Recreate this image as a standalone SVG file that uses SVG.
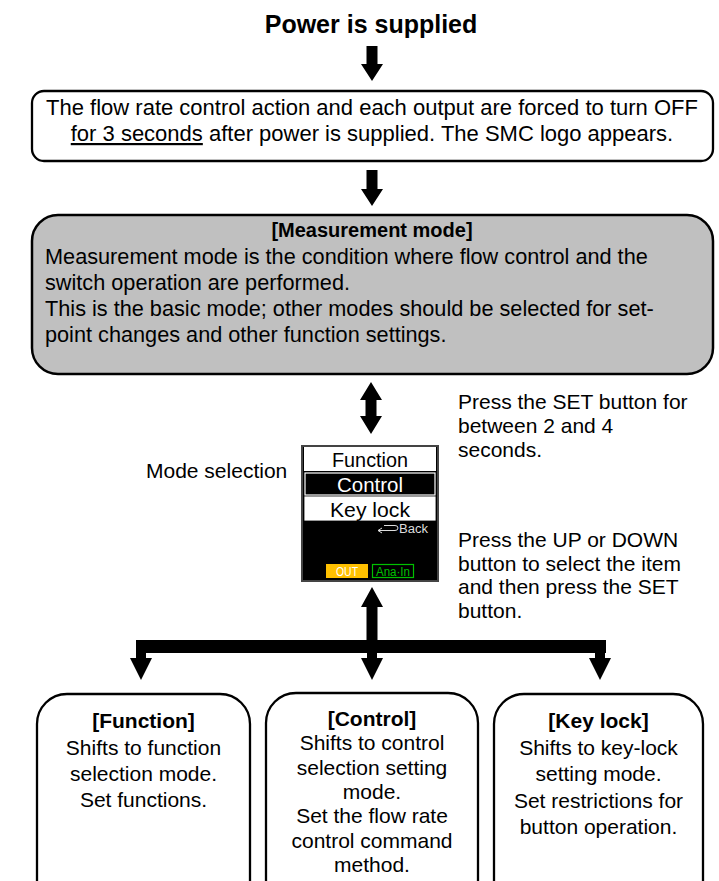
<svg xmlns="http://www.w3.org/2000/svg" width="719" height="881" viewBox="0 0 719 881">
<style>
.t{font-family:"Liberation Sans",Arial,sans-serif;fill:#000}
.b{font-weight:bold}
.box{fill:#fff;stroke:#000;stroke-width:2.3}
.gray{fill:#c0c0c0;stroke:#000;stroke-width:2.5}
.ar{fill:#000}
.lcd{font-family:"Liberation Sans",Arial,sans-serif}
</style>
<rect width="719" height="881" fill="#fff"/>
<text class="t b" x="371" y="33" font-size="25" text-anchor="middle">Power is supplied</text>
<g id="connectors">
<polygon class="ar" points="366.5,46 377.5,46 377.5,64 383,64 372,81 361,64 366.5,64"/>
<polygon class="ar" points="366.5,170 377.5,170 377.5,189 383,189 372,206 361,189 366.5,189"/>
<polygon class="ar" points="371,382 382,400 376.5,400 376.5,416 382,416 371,434 360,416 365.5,416 365.5,400 360,400"/>
<polygon class="ar" points="372,587 383,607 377.5,607 377.5,640 366.5,640 366.5,607 361,607"/>
<rect class="ar" x="136" y="640" width="470" height="13"/>
<polygon class="ar" points="136,653 146,653 146,658 152,658 141,680 130,658 136,658"/>
<polygon class="ar" points="367,653 377,653 377,658 383,658 372,680 361,658 367,658"/>
<polygon class="ar" points="595,653 605,653 605,658 611,658 600,680 589,658 595,658"/>
</g>
<g id="node-power-on">
<rect class="box" x="32" y="91" width="681" height="70" rx="12"/>
<text class="t" x="372" y="115" font-size="22" text-anchor="middle">The flow rate control action and each output are forced to turn OFF</text>
<text class="t" x="372" y="141" font-size="22" text-anchor="middle"><tspan text-decoration="underline">for 3 seconds</tspan> after power is supplied. The SMC logo appears.</text>
</g>
<g id="node-measurement">
<rect class="gray" x="32" y="215" width="681" height="159" rx="26"/>
<text class="t b" x="372" y="237" font-size="20" text-anchor="middle">[Measurement mode]</text>
<text class="t" x="45" y="264" font-size="21.7">Measurement mode is the condition where flow control and the</text>
<text class="t" x="45" y="290" font-size="21.7">switch operation are performed.</text>
<text class="t" x="45" y="316" font-size="21.7">This is the basic mode; other modes should be selected for set-</text>
<text class="t" x="45" y="342" font-size="21.7">point changes and other function settings.</text>
</g>
<g id="label-set">
<text class="t" x="458" y="409" font-size="21">Press the SET button for</text>
<text class="t" x="458" y="433" font-size="21">between 2 and 4</text>
<text class="t" x="458" y="457" font-size="21">seconds.</text>
</g>
<g id="label-updown">
<text class="t" x="458" y="547" font-size="21">Press the UP or DOWN</text>
<text class="t" x="458" y="571" font-size="21">button to select the item</text>
<text class="t" x="458" y="594" font-size="21">and then press the SET</text>
<text class="t" x="458" y="618" font-size="21">button.</text>
</g>
<g id="label-mode">
<text class="t" x="146" y="478" font-size="21">Mode selection</text>
</g>
<g id="node-screen">
<rect x="302" y="446" width="136" height="135" fill="#000" stroke="#444" stroke-width="2"/>
<rect x="304" y="447" width="132" height="24" fill="#fff"/>
<text class="lcd" x="370" y="467" font-size="20" text-anchor="middle" textLength="76" lengthAdjust="spacingAndGlyphs" fill="#000">Function</text>
<rect x="305" y="473" width="130" height="22" fill="#000" stroke="#fff" stroke-width="1.2"/>
<text class="lcd" x="370" y="492" font-size="20" text-anchor="middle" textLength="66" lengthAdjust="spacingAndGlyphs" fill="#fff">Control</text>
<rect x="305" y="497" width="130" height="23" fill="#fff" stroke="#fff" stroke-width="1.2"/>
<text class="lcd" x="370" y="517" font-size="20" text-anchor="middle" textLength="80" lengthAdjust="spacingAndGlyphs" fill="#000">Key lock</text>
<path d="M384,525.5 L395,525.5 Q398,525.5 398,528 Q398,530.5 395,530.5 L378,530.5 M382,528 L378,530.5 L382,533" fill="none" stroke="#ddd" stroke-width="1"/>
<text class="lcd" x="399" y="533" font-size="12" textLength="29" lengthAdjust="spacingAndGlyphs" fill="#ddd">Back</text>
<rect x="326" y="564" width="42" height="14" fill="#ffc000"/>
<text class="lcd" x="347" y="575.5" font-size="12" text-anchor="middle" textLength="22" lengthAdjust="spacingAndGlyphs" fill="#fff">OUT</text>
<rect x="372.5" y="564.5" width="41" height="13" fill="#000" stroke="#00c000" stroke-width="1.2"/>
<text class="lcd" x="393" y="575.5" font-size="12" text-anchor="middle" textLength="34" lengthAdjust="spacingAndGlyphs" fill="#00c000">Ana·In</text>
</g>
<g id="node-function">
<rect class="box" x="37" y="694" width="213" height="220" rx="30" stroke-width="2"/>
<text class="t b" x="143.5" y="728" font-size="21" text-anchor="middle">[Function]</text>
<text class="t" x="143.5" y="755" font-size="21" text-anchor="middle">Shifts to function</text>
<text class="t" x="143.5" y="781" font-size="21" text-anchor="middle">selection mode.</text>
<text class="t" x="143.5" y="807" font-size="21" text-anchor="middle">Set functions.</text>
</g>
<g id="node-control">
<rect class="box" x="266" y="693" width="212" height="220" rx="30" stroke-width="2"/>
<text class="t b" x="372" y="726" font-size="21" text-anchor="middle">[Control]</text>
<text class="t" x="372" y="750" font-size="21" text-anchor="middle">Shifts to control</text>
<text class="t" x="372" y="775" font-size="21" text-anchor="middle">selection setting</text>
<text class="t" x="372" y="799" font-size="21" text-anchor="middle">mode.</text>
<text class="t" x="372" y="823" font-size="21" text-anchor="middle">Set the flow rate</text>
<text class="t" x="372" y="848" font-size="21" text-anchor="middle">control command</text>
<text class="t" x="372" y="872" font-size="21" text-anchor="middle">method.</text>
</g>
<g id="node-keylock">
<rect class="box" x="494" y="694" width="209" height="220" rx="30" stroke-width="2"/>
<text class="t b" x="598.5" y="728" font-size="21" text-anchor="middle">[Key lock]</text>
<text class="t" x="598.5" y="755" font-size="21" text-anchor="middle">Shifts to key-lock</text>
<text class="t" x="598.5" y="781" font-size="21" text-anchor="middle">setting mode.</text>
<text class="t" x="598.5" y="808" font-size="21" text-anchor="middle">Set restrictions for</text>
<text class="t" x="598.5" y="834" font-size="21" text-anchor="middle">button operation.</text>
</g>
</svg>
